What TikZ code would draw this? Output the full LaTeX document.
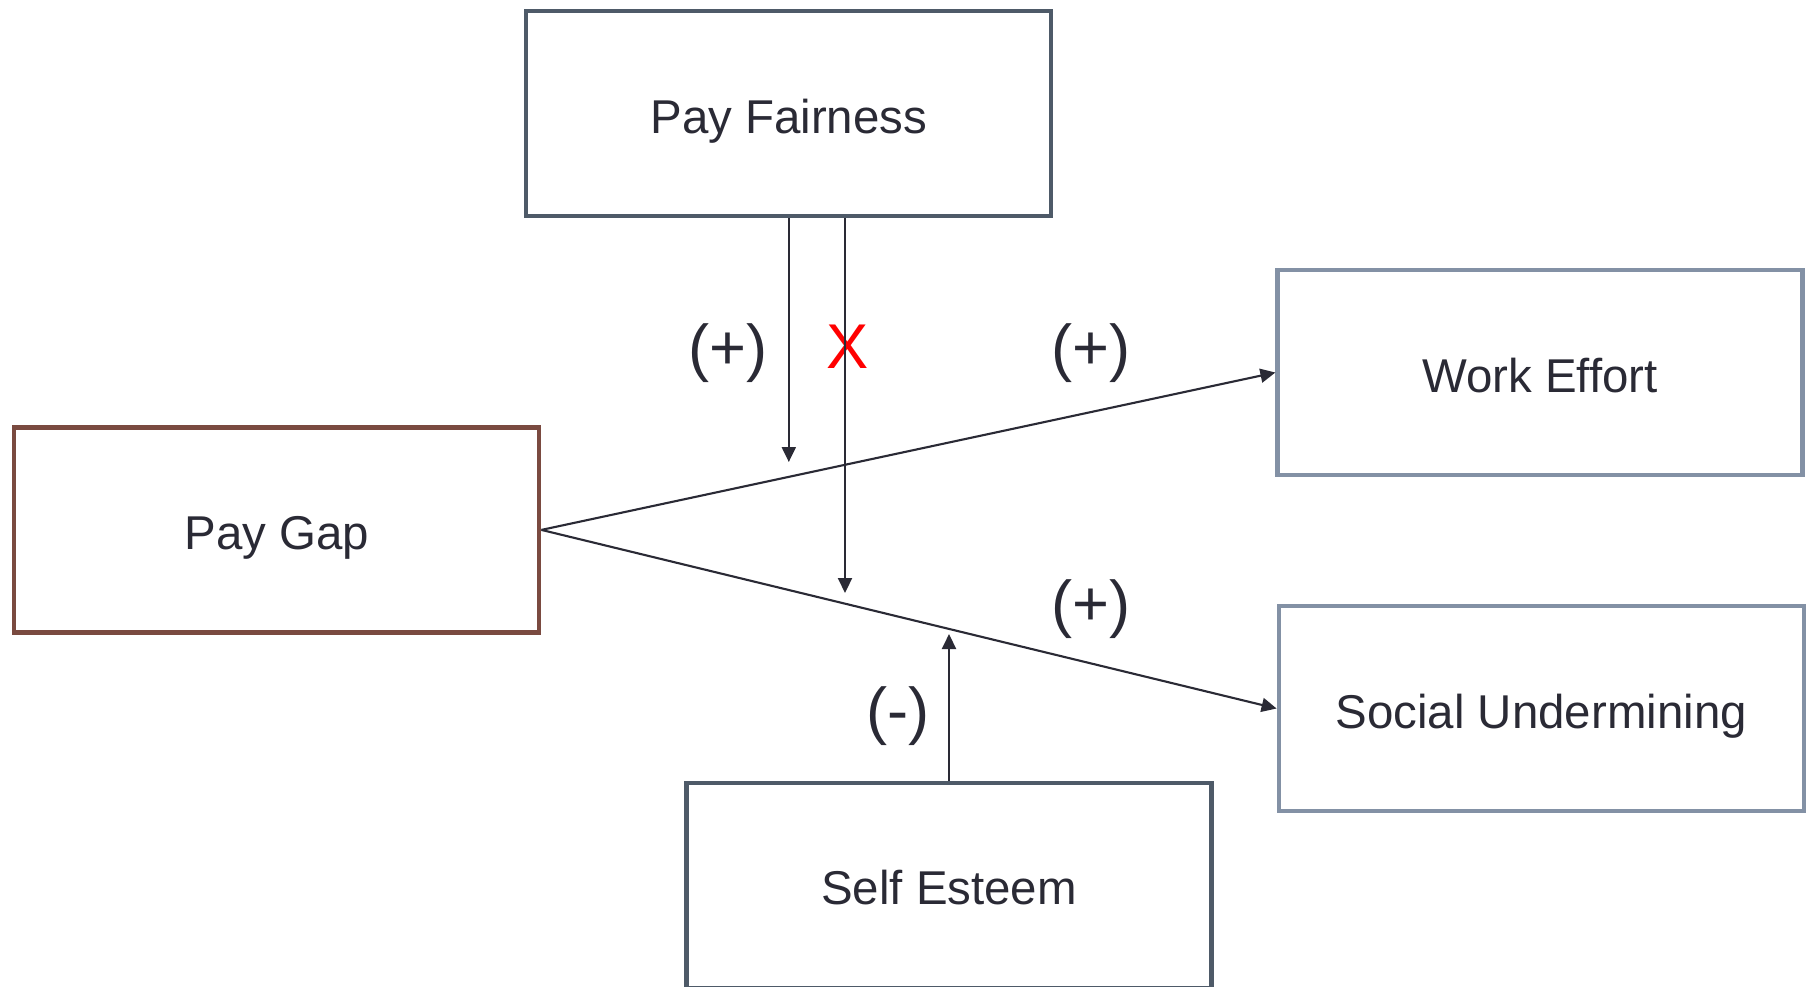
\documentclass[tikz,border=0pt]{standalone}
\usepackage{fontspec}
\setmainfont{Liberation Sans}
\usetikzlibrary{arrows.meta}
\definecolor{slate}{HTML}{4E5A68}
\definecolor{bluegray}{HTML}{8391A5}
\definecolor{brick}{HTML}{7A4A40}
\definecolor{ink}{HTML}{2A2A35}

\begin{document}
\begin{tikzpicture}[
  box/.style={shape=rectangle, line width=1.2pt, minimum width=5.25cm, minimum height=2.05cm, inner sep=0pt, text height=0.49cm, text depth=0.1cm, text=ink, font=\fontsize{13.5}{16}\selectfont},
  arr/.style={-{Triangle[length=1.5mm, width=1.4mm]}, line width=0.6pt, draw=ink},
  sign/.style={inner sep=0pt, font=\fontsize{18}{20}\selectfont}]
\useasboundingbox (0,0) rectangle (18.08,9.86);
\clip (0,0) rectangle (18.08,9.86);
\node[box, draw=slate] (PF) at (7.888, 8.725) {Pay Fairness};
\node[box, draw=bluegray] (WE) at (15.40, 6.135) {Work Effort};
\node[box, draw=brick] (PG) at (2.768, 4.561) {Pay Gap};
\node[box, draw=bluegray] (SU) at (15.412, 2.775) {Social Undermining};
\node[box, draw=slate] (SE) at (9.49, 1.008) {Self Esteem};
\coordinate (t1) at (7.888, 5.24);
\coordinate (t2) at (8.45, 3.93);
\coordinate (t3) at (9.49, 3.52);
\node[sign, text=ink] (s1) at (7.28, 6.33) {(+)};
\node[sign, text=red] (s2) at (8.475, 6.39) {X};
\node[sign, text=ink] (s3) at (10.908, 6.33) {(+)};
\node[sign, text=ink] (s4) at (10.908, 3.77) {(+)};
\node[sign, text=ink] (s5) at (8.98, 2.70) {(-)};
\draw[arr] (PG.east) -- (WE.west);
\draw[arr] (PG.east) -- (SU.west);
\draw[arr] (PF.south) -- (t1);
\draw[arr] (PF.south -| t2) -- (t2);
\draw[arr] (SE.north) -- (t3);
\end{tikzpicture}
\end{document}
